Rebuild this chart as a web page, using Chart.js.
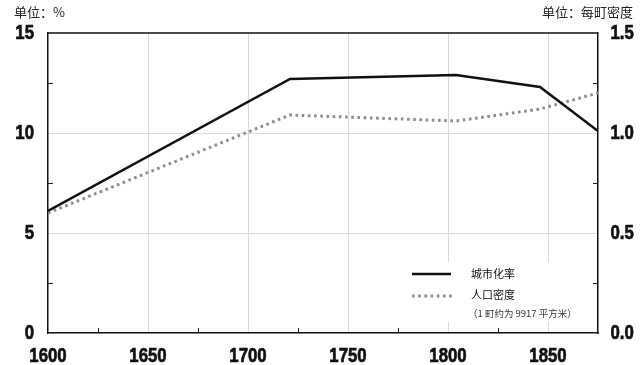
<!DOCTYPE html>
<html><head><meta charset="utf-8">
<script src="https://cdn.jsdelivr.net/npm/chart.js@4/dist/chart.umd.min.js"></script>
<style>html,body{margin:0;padding:0;background:#fff}#wrap{width:640px;height:365px}</style>
</head><body><div id="wrap"><canvas id="c" width="640" height="365"></canvas></div>
<script>
const years = [1600, 1721, 1804, 1846, 1875];
const urbanRate = [6.1, 12.7, 12.9, 12.3, 10.1];
const popDensity = [0.60, 1.09, 1.06, 1.12, 1.20];
const xTicks = [1600, 1650, 1700, 1750, 1800, 1850];
const xMinorTicks = [1625, 1675, 1725, 1775, 1825];
const leftTicks = [0, 5, 10, 15];
const leftMinor = [2.5, 7.5, 12.5];
const rightTicks = [0, 0.5, 1.0, 1.5];
const rightMinor = [0.25, 0.75, 1.25];
const seriesNames = ['城市化率', '人口密度'];
const noteText = '（1 町约为 9917 平方米）';
const leftUnit = '单位：%';
const rightUnit = '单位：每町密度';

const numFontStr = 'bold 21px "Liberation Sans", Arial, sans-serif';
const squeeze = 0.8;
const cjk = '"Noto Sans CJK SC", "Noto Sans", sans-serif';

function condensedText(ctx, text, x, y, align) {
  ctx.save();
  ctx.font = numFontStr;
  ctx.textBaseline = 'middle';
  ctx.textAlign = align;
  ctx.translate(x, y);
  ctx.scale(squeeze, 1);
  ctx.lineWidth = 0.7;
  ctx.strokeStyle = ctx.fillStyle;
  ctx.fillText(text, 0, 0);
  ctx.strokeText(text, 0, 0);
  ctx.restore();
}

const extras = {
  id: 'extras',
  beforeDatasetsDraw(chart) {
    const ctx = chart.ctx, a = chart.chartArea;
    const x = chart.scales.x, y = chart.scales.y, y2 = chart.scales.y2;
    ctx.save();
    ctx.strokeStyle = '#222'; ctx.lineWidth = 1;
    xMinorTicks.forEach(v => { const px = Math.round(x.getPixelForValue(v)) + 0.5; ctx.beginPath(); ctx.moveTo(px, a.bottom); ctx.lineTo(px, a.bottom - 5); ctx.stroke(); });
    leftMinor.forEach(v => { const py = Math.round(y.getPixelForValue(v)) + 0.5; ctx.beginPath(); ctx.moveTo(a.left, py); ctx.lineTo(a.left + 5, py); ctx.stroke(); });
    rightMinor.forEach(v => { const py = Math.round(y2.getPixelForValue(v)) + 0.5; ctx.beginPath(); ctx.moveTo(a.right, py); ctx.lineTo(a.right - 5, py); ctx.stroke(); });
    ctx.strokeStyle = '#111'; ctx.lineWidth = 1.5;
    ctx.beginPath(); ctx.moveTo(a.left, a.top); ctx.lineTo(a.right, a.top); ctx.stroke();
    // legend
    ctx.fillStyle = '#fff';
    ctx.fillRect(404, 262, 186, 60);
    ctx.strokeStyle = '#111'; ctx.lineWidth = 2.5;
    ctx.beginPath(); ctx.moveTo(412, 274); ctx.lineTo(451, 274); ctx.stroke();
    ctx.strokeStyle = '#8c8c8c'; ctx.lineWidth = 3; ctx.setLineDash([2.6, 3.6]);
    ctx.beginPath(); ctx.moveTo(412, 296); ctx.lineTo(452, 296); ctx.stroke();
    ctx.setLineDash([]);
    ctx.fillStyle = '#111'; ctx.textBaseline = 'middle'; ctx.textAlign = 'left';
    ctx.font = '11px ' + cjk;
    ctx.fillText(seriesNames[0], 471, 274);
    ctx.fillText(seriesNames[1], 471, 295);
    ctx.fillStyle = '#333';
    ctx.font = '9.5px ' + cjk;
    ctx.fillText(noteText, 468, 313);
    ctx.restore();
  },
  afterDraw(chart) {
    const ctx = chart.ctx, a = chart.chartArea;
    const x = chart.scales.x, y = chart.scales.y, y2 = chart.scales.y2;
    ctx.save();
    ctx.fillStyle = '#111';
    x.ticks.forEach(t => condensedText(ctx, String(t.value), x.getPixelForValue(t.value), a.bottom + 23, 'center'));
    y.ticks.forEach(t => condensedText(ctx, String(t.value), a.left - 14, y.getPixelForValue(t.value), 'right'));
    y2.ticks.forEach(t => condensedText(ctx, Number(t.value).toFixed(1), a.right + 12.5, y2.getPixelForValue(t.value), 'left'));
    ctx.fillStyle = '#222'; ctx.textBaseline = 'middle';
    ctx.font = '13px ' + cjk;
    ctx.textAlign = 'left'; ctx.fillText(leftUnit, 14, 12);
    ctx.textAlign = 'right'; ctx.fillText(rightUnit, 633, 12);
    ctx.restore();
  }
};

new Chart(document.getElementById('c'), {
  type: 'line',
  data: {
    datasets: [
      {label: seriesNames[0], data: years.map((v, i) => ({x: v, y: urbanRate[i]})), yAxisID: 'y',
       borderColor: '#111', borderWidth: 2.5, pointRadius: 0, tension: 0, fill: false},
      {label: seriesNames[1], data: years.map((v, i) => ({x: v, y: popDensity[i]})), yAxisID: 'y2',
       borderColor: '#8c8c8c', borderWidth: 3, borderDash: [2.6, 3.6], pointRadius: 0, tension: 0, fill: false}
    ]
  },
  options: {
    responsive: false, animation: false, devicePixelRatio: 1,
    layout: {padding: {top: 33, left: 0, right: 0, bottom: 0}},
    plugins: {legend: {display: false}, tooltip: {enabled: false}},
    scales: {
      x: {type: 'linear', min: 1600, max: 1875,
        afterBuildTicks: s => { s.ticks = xTicks.map(v => ({value: v})); },
        afterFit: s => { s.height = 32; },
        grid: {color: c => (c.tick && c.tick.value === 1600) ? 'rgba(0,0,0,0)' : '#dadada', lineWidth: 1, drawTicks: false},
        border: {display: true, color: '#111', width: 1.5},
        ticks: {display: false}
      },
      y: {position: 'left', min: 0, max: 15,
        afterBuildTicks: s => { s.ticks = leftTicks.map(v => ({value: v})); },
        afterFit: s => { s.width = 48; },
        grid: {color: c => (c.tick && (c.tick.value === 0 || c.tick.value === 15)) ? 'rgba(0,0,0,0)' : '#dadada', lineWidth: 1, drawTicks: false},
        border: {display: true, color: '#111', width: 1.5},
        ticks: {display: false}
      },
      y2: {position: 'right', min: 0, max: 1.5,
        afterBuildTicks: s => { s.ticks = rightTicks.map(v => ({value: v})); },
        afterFit: s => { s.width = 42; },
        grid: {display: false, drawTicks: false},
        border: {display: true, color: '#111', width: 1.5},
        ticks: {display: false}
      }
    }
  },
  plugins: [extras]
});
</script></body></html>
